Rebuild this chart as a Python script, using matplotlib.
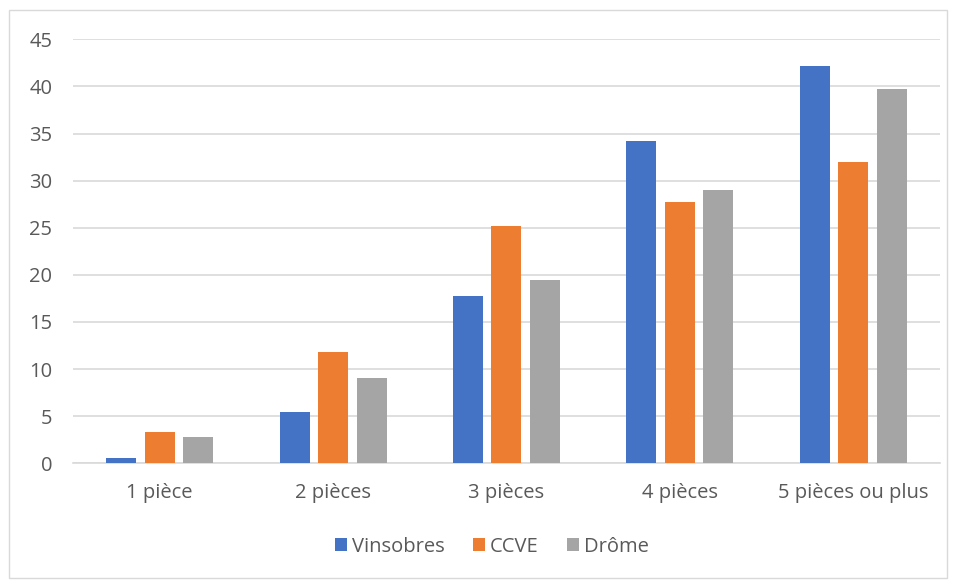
import matplotlib
matplotlib.use("Agg")
import matplotlib.pyplot as plt
from matplotlib.patches import Rectangle
import numpy as np

categories = ["1 pièce", "2 pièces", "3 pièces", "4 pièces", "5 pièces ou plus"]
series_names = ["Vinsobres", "CCVE", "Drôme"]
vinsobres = [0.6, 5.4, 17.8, 34.2, 42.2]
ccve = [3.3, 11.8, 25.2, 27.7, 32.0]
drome = [2.8, 9.0, 19.5, 29.0, 39.7]
y_ticks = [0, 5, 10, 15, 20, 25, 30, 35, 40, 45]

colors = ["#4472C4", "#ED7D31", "#A5A5A5"]
text_color = "#595959"
grid_color = "#D9D9D9"

plt.rcParams["font.family"] = ["Open Sans", "DejaVu Sans"]

fig = plt.figure(figsize=(9.57, 5.81), dpi=100)
ax = fig.add_axes([0.0763, 0.2026, 0.9057, 0.7298])

# outer chart border
fig.patches.append(Rectangle((9 / 957, 3 / 581), 938 / 957, 568 / 581,
                             transform=fig.transFigure, fill=False,
                             edgecolor=grid_color, linewidth=1))

x = np.arange(len(categories))
width = 0.173
step = 0.222
for i, (vals, name) in enumerate(zip([vinsobres, ccve, drome], series_names)):
    ax.bar(x + (i - 1) * step, vals, width, color=colors[i], label=name, zorder=3)

ax.set_xlim(-0.5, len(categories) - 0.5)
ax.set_ylim(0, 45)
ax.set_yticks(y_ticks)
ax.set_xticks(x)
ax.set_xticklabels(categories)
ax.yaxis.grid(True, color=grid_color, linewidth=1.2, zorder=0)
for s in ["top", "right", "left"]:
    ax.spines[s].set_visible(False)
ax.spines["bottom"].set_color(grid_color)
ax.spines["bottom"].set_linewidth(1.2)
ax.tick_params(axis="both", length=0, labelsize=14.5, colors=text_color)
ax.tick_params(axis="y", pad=15)
ax.tick_params(axis="x", pad=14)

leg = ax.legend(loc="center", bbox_to_anchor=(0.483, -0.197), ncol=3, frameon=False,
                fontsize=14.5, handlelength=0.6, handleheight=0.6,
                handletextpad=0.25, columnspacing=1.4)
for t in leg.get_texts():
    t.set_color(text_color)

fig.savefig("out.png", dpi=100)
